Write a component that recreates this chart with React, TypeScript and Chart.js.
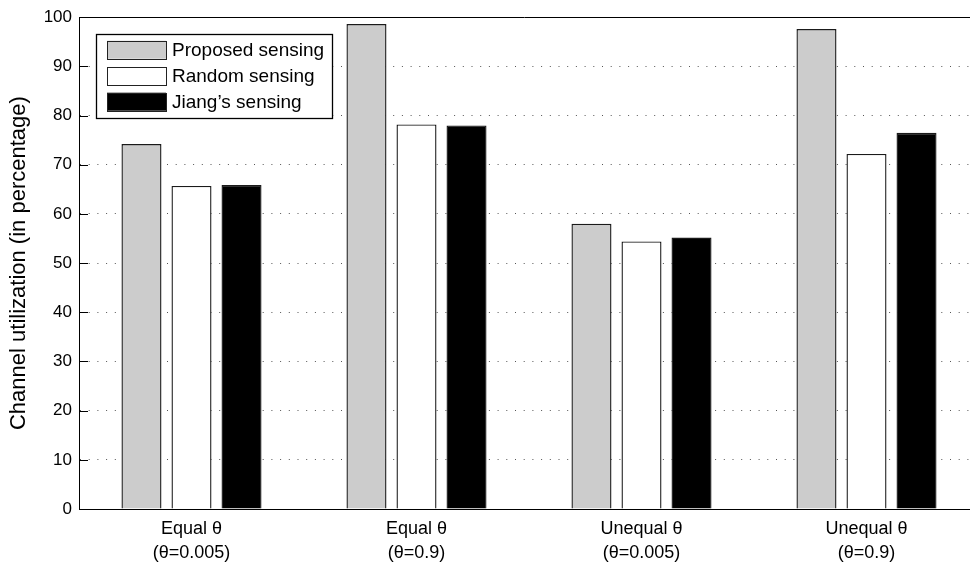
import { useEffect, useRef } from "react";
import { Chart, registerables } from "chart.js";

Chart.register(...registerables);

// Scenario labels (two lines each) along the horizontal axis
const categories: string[][] = [
  ["Equal θ", "(θ=0.005)"],
  ["Equal θ", "(θ=0.9)"],
  ["Unequal θ", "(θ=0.005)"],
  ["Unequal θ", "(θ=0.9)"],
];

const seriesNames = ["Proposed sensing", "Random sensing", "Jiang’s sensing"];

// Channel utilization (%) per scenario
const proposed = [74.2, 98.6, 58.0, 97.6];
const random = [65.7, 78.2, 54.4, 72.2];
const jiang = [65.9, 78.0, 55.2, 76.5];

const yTicks = [0, 10, 20, 30, 40, 50, 60, 70, 80, 90, 100];

const FONT = "'Liberation Sans', Arial, Helvetica, sans-serif";

const frameAndLegend = {
  id: "frameAndLegend",
  afterDatasetsDraw(chart: any) {
    const { ctx, chartArea } = chart;
    const { left, top, right } = chartArea;
    const yScale = chart.scales.y;
    ctx.save();

    // top frame line
    ctx.strokeStyle = "#000";
    ctx.lineWidth = 1;
    ctx.beginPath();
    ctx.moveTo(left, Math.round(top) + 0.5);
    ctx.lineTo(right, Math.round(top) + 0.5);
    ctx.stroke();

    // inward tick marks on the value axis
    yTicks.forEach((v) => {
      const py = Math.round(yScale.getPixelForValue(v)) + 0.5;
      ctx.beginPath();
      ctx.moveTo(left, py);
      ctx.lineTo(left + 9, py);
      ctx.stroke();
    });

    // boxed legend in the upper-left corner
    const bx = left + 17;
    const by = top + 16.5;
    const bw = 236;
    const bh = 84;
    ctx.fillStyle = "#fff";
    ctx.fillRect(bx, by, bw, bh);
    ctx.lineWidth = 1.3;
    ctx.strokeStyle = "#000";
    ctx.strokeRect(Math.round(bx) + 0.5, Math.round(by) + 0.5, bw, bh);

    ctx.font = `19px ${FONT}`;
    ctx.textBaseline = "middle";
    ctx.textAlign = "left";
    chart.data.datasets.forEach((ds: any, i: number) => {
      const cy = by + 16 + i * 26;
      ctx.fillStyle = ds.backgroundColor;
      ctx.fillRect(bx + 11, cy - 9, 59, 18);
      ctx.lineWidth = 1;
      ctx.strokeStyle = "#222";
      ctx.strokeRect(Math.round(bx + 11) + 0.5, Math.round(cy - 9) + 0.5, 59, 18);
      ctx.fillStyle = "#000";
      ctx.fillText(ds.label, bx + 76, cy + 1);
    });

    ctx.restore();
  },
};

export default function App() {
  const canvasRef = useRef<HTMLCanvasElement | null>(null);

  useEffect(() => {
    const canvas = canvasRef.current;
    if (!canvas) return;

    const toPoints = (vals: number[]) => vals.map((y, i) => ({ x: i + 1, y }));
    const fills = ["#cccccc", "#ffffff", "#000000"];
    const seriesValues = [proposed, random, jiang];

    const chart = new Chart(canvas, {
      type: "bar",
      data: {
        datasets: seriesNames.map((name, i) => ({
          label: name,
          data: toPoints(seriesValues[i]),
          backgroundColor: fills[i],
          borderColor: "#1a1a1a",
          borderWidth: 1.4,
          categoryPercentage: 0.667,
          barPercentage: 0.8,
        })),
      },
      options: {
        animation: false,
        responsive: false,
        devicePixelRatio: 1,
        layout: { padding: { top: 12.5, right: 0, left: 0, bottom: 0 } },
        plugins: {
          legend: { display: false },
          tooltip: { enabled: false },
        },
        scales: {
          x: {
            type: "linear",
            offset: false,
            min: 0.5,
            max: 0.5 + 891 / 225,
            afterBuildTicks: (scale: any) => {
              scale.ticks = categories.map((_, i) => ({ value: i + 1 }));
            },
            afterFit: (scale: any) => {
              scale.height = 57;
            },
            grid: { display: false, drawTicks: false, offset: false },
            border: { display: true, color: "#000", width: 1 },
            ticks: {
              autoSkip: false,
              maxRotation: 0,
              padding: 8,
              color: "#000",
              font: { family: FONT, size: 18, lineHeight: 24 / 18 },
              callback: (value: any) => categories[Math.round(Number(value)) - 1] ?? "",
            },
          },
          y: {
            min: 0,
            max: 100,
            afterBuildTicks: (scale: any) => {
              scale.ticks = yTicks.map((v) => ({ value: v }));
            },
            afterFit: (scale: any) => {
              scale.width = 79;
            },
            grid: {
              drawTicks: false,
              lineWidth: 1,
              color: (c: any) =>
                c.tick && (c.tick.value === 0 || c.tick.value === 100) ? "rgba(0,0,0,0)" : "#555",
            },
            border: { display: true, color: "#000", width: 1, dash: [1, 7.7] },
            ticks: {
              padding: 7,
              color: "#000",
              font: { family: FONT, size: 17 },
            },
            title: {
              display: true,
              text: "Channel utilization (in percentage)",
              color: "#000",
              font: { family: FONT, size: 22 },
              padding: { top: 6, bottom: 0 },
            },
          },
        },
      },
      plugins: [frameAndLegend],
    } as any);

    return () => chart.destroy();
  }, []);

  return (
    <div style={{ position: "fixed", left: 0, top: 0, width: 970, height: 566, background: "#fff" }}>
      <canvas ref={canvasRef} width={970} height={566} style={{ display: "block" }} />
    </div>
  );
}
